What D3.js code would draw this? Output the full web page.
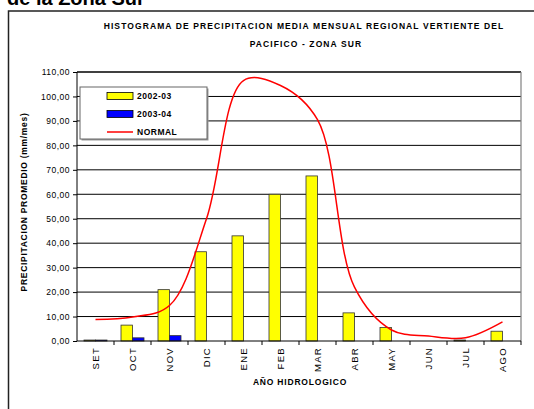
<!DOCTYPE html>
<html>
<head>
<meta charset="utf-8">
<script src="https://cdn.jsdelivr.net/npm/d3@7"></script>
<style>
  body { margin: 0; background: #fff; }
  svg text { font-family: Arial, "Liberation Sans", sans-serif; }
</style>
</head>
<body>
<div class="chart"></div>
<script>
// data
let months = ["SET", "OCT", "NOV", "DIC", "ENE", "FEB", "MAR", "ABR", "MAY", "JUN", "JUL", "AGO"];
let serie2002 = [0.4, 6.5, 21, 36.5, 43, 60, 67.5, 11.5, 5.5, 0, 0.4, 4];
let serie2003 = [0.4, 1.3, 2.2, 0, 0, 0, 0, 0, 0, 0, 0, 0];
let normal = [8.8, 9.8, 14.5, 50, 106.5, 104.5, 90.5, 22, 4.5, 2, 1.3, 7.8];
let yTicks = [0, 10, 20, 30, 40, 50, 60, 70, 80, 90, 100, 110];
let seriesNames = ["2002-03", "2003-04", "NORMAL"];

let svgWidth = 534;
let svgHeight = 409;
let margin = { top: 72, left: 77, right: 13, bottom: 68 };
let width = svgWidth - margin.left - margin.right;
let height = svgHeight - margin.top - margin.bottom;

let svg = d3.select(".chart")
    .append("svg")
    .attr("width", svgWidth)
    .attr("height", svgHeight);

// cut-off heading above the frame
svg.append("text")
    .attr("x", 7)
    .attr("y", 5)
    .attr("font-size", 20)
    .attr("font-weight", "bold")
    .text("de la Zona Sur");

// outer chart frame
svg.append("rect")
    .attr("x", 8.5)
    .attr("y", 11)
    .attr("width", 540)
    .attr("height", 420)
    .attr("fill", "none")
    .attr("stroke", "#222")
    .attr("stroke-width", 1.5);

// title
let title = svg.append("text")
    .attr("text-anchor", "middle")
    .attr("font-size", 8.5)
    .attr("font-weight", "bold")
    .attr("letter-spacing", 1.1);
title.append("tspan").attr("x", 304).attr("y", 29)
    .text("HISTOGRAMA DE PRECIPITACION MEDIA MENSUAL REGIONAL VERTIENTE DEL");
title.append("tspan").attr("x", 306).attr("y", 47)
    .text("PACIFICO - ZONA SUR");

let chartgroup = svg.append("g")
    .attr("transform", `translate(${margin.left}, ${margin.top})`);

let x0 = d3.scaleBand()
    .domain(months)
    .range([0, width]);
let x1 = d3.scaleBand()
    .domain(["a", "b"])
    .range([0, 23])
    .padding(0);
let y = d3.scaleLinear()
    .domain([0, 110])
    .range([height, 0]);

// gridlines
chartgroup.selectAll(".grid")
    .data(yTicks.slice(1))
    .enter()
    .append("line")
    .attr("x1", 0)
    .attr("x2", width)
    .attr("y1", d => y(d))
    .attr("y2", d => y(d))
    .attr("stroke", "#000")
    .attr("stroke-width", d => d === 110 ? 1.6 : 1);

// right border in grey
chartgroup.append("line")
    .attr("x1", width).attr("x2", width)
    .attr("y1", 0).attr("y2", height)
    .attr("stroke", "#808080")
    .attr("stroke-width", 1.2);

// bars
let barOffset = (x0.bandwidth() - 23) / 2;
let groups = chartgroup.selectAll(".month")
    .data(months)
    .enter()
    .append("g")
    .attr("transform", d => `translate(${x0(d) + barOffset}, 0)`);
groups.append("rect")
    .attr("x", x1("a"))
    .attr("width", x1.bandwidth())
    .attr("y", (d, i) => y(serie2002[i]))
    .attr("height", (d, i) => height - y(serie2002[i]))
    .attr("fill", "#ffff00")
    .attr("stroke", "#333")
    .attr("stroke-width", 0.8);
groups.append("rect")
    .attr("x", x1("b"))
    .attr("width", x1.bandwidth())
    .attr("y", (d, i) => y(serie2003[i]))
    .attr("height", (d, i) => height - y(serie2003[i]))
    .attr("fill", "#0000ff")
    .attr("stroke", "#333")
    .attr("stroke-width", 0.8);

// normal line
let line = d3.line()
    .x((d, i) => x0(months[i]) + x0.bandwidth() / 2)
    .y(d => y(d))
    .curve(d3.curveCatmullRom.alpha(0.5));
chartgroup.append("path")
    .datum(normal)
    .attr("d", line)
    .attr("fill", "none")
    .attr("stroke", "#ff0000")
    .attr("stroke-width", 1.5);

// axes
let leftAxis = d3.axisLeft(y)
    .tickValues(yTicks)
    .tickSize(4)
    .tickFormat(d => d3.format(".2f")(d).replace(".", ","));
let yAxis = chartgroup.append("g").call(leftAxis);
yAxis.select(".domain").attr("stroke", "#000").attr("d", `M0,0V${height}`);
yAxis.selectAll("text")
    .attr("font-size", 8.5)
    .attr("letter-spacing", 0.5)
    .attr("fill", "#000")
    .attr("x", -7);

let bottomAxis = d3.axisBottom(x0).tickSize(0);
let xAxis = chartgroup.append("g")
    .attr("transform", `translate(0, ${height})`)
    .call(bottomAxis);
xAxis.select(".domain").attr("stroke", "#000").attr("d", `M0,0H${width}`);
xAxis.selectAll("text")
    .attr("font-size", 9.5)
    .attr("letter-spacing", 1.3)
    .attr("fill", "#000")
    .attr("transform", "rotate(-90)")
    .attr("text-anchor", "end")
    .attr("x", -6)
    .attr("y", 0)
    .attr("dy", "0.35em");
// tick marks between categories
xAxis.selectAll(".sep")
    .data(months.slice(1).concat(["end"]))
    .enter()
    .append("line")
    .attr("x1", (d, i) => x0.step() * (i + 1))
    .attr("x2", (d, i) => x0.step() * (i + 1))
    .attr("y1", 0)
    .attr("y2", 4)
    .attr("stroke", "#000");

// axis titles
svg.append("text")
    .attr("x", 300)
    .attr("y", 385)
    .attr("text-anchor", "middle")
    .attr("font-size", 8.5)
    .attr("font-weight", "bold")
    .attr("letter-spacing", 0.8)
    .text("AÑO HIDROLOGICO");
svg.append("text")
    .attr("transform", "translate(27, 202) rotate(-90)")
    .attr("text-anchor", "middle")
    .attr("font-size", 8.5)
    .attr("font-weight", "bold")
    .attr("letter-spacing", 0.7)
    .text("PRECIPITACION PROMEDIO (mm/mes)");

// legend
let legend = svg.append("g").attr("transform", "translate(80, 87)");
legend.append("rect")
    .attr("x", 1.5).attr("y", 1.5)
    .attr("width", 127).attr("height", 52)
    .attr("fill", "#999");
legend.append("rect")
    .attr("width", 127).attr("height", 52)
    .attr("fill", "#fff")
    .attr("stroke", "#666")
    .attr("stroke-width", 1);
let legendColors = ["#ffff00", "#0000ff", "#ff0000"];
seriesNames.forEach(function(name, i) {
    let ly = 9 + i * 18;
    if (i < 2) {
        legend.append("rect")
            .attr("x", 27).attr("y", ly - 3.5)
            .attr("width", 26).attr("height", 7)
            .attr("fill", legendColors[i])
            .attr("stroke", "#000")
            .attr("stroke-width", 0.8);
    } else {
        legend.append("line")
            .attr("x1", 27).attr("x2", 53)
            .attr("y1", ly).attr("y2", ly)
            .attr("stroke", legendColors[i])
            .attr("stroke-width", 1.5);
    }
    legend.append("text")
        .attr("x", 57)
        .attr("y", ly)
        .attr("dy", "0.35em")
        .attr("font-size", 8.5)
        .attr("font-weight", "bold")
        .attr("letter-spacing", 0.5)
        .text(name);
});
</script>
</body>
</html>
